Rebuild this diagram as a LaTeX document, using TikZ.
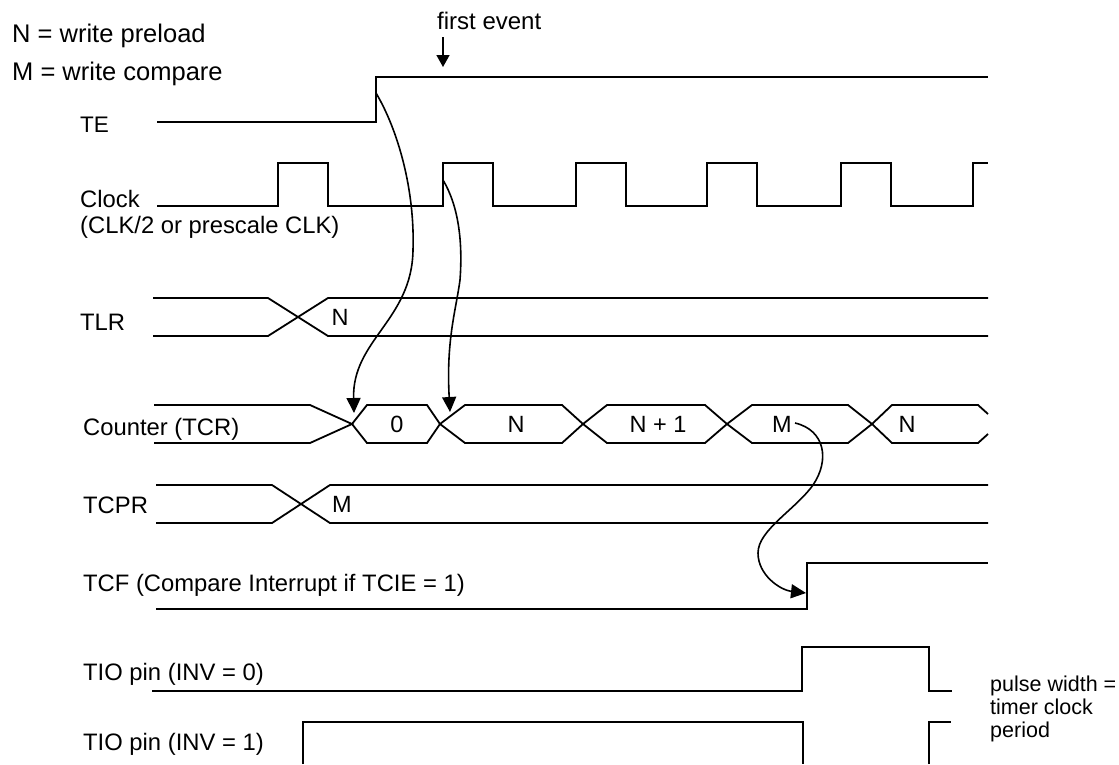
\documentclass[tikz,border=0pt]{standalone}
\usepackage{fontspec}
\setmainfont{Liberation Sans}
\usetikzlibrary{arrows.meta}

\begin{document}
\begin{tikzpicture}[x=1pt,y=-1pt,
  sig/.style={line width=2.6pt},
  bus/.style={line width=1.8pt},
  lbl/.style={anchor=base west,inner sep=0pt,font=\fontsize{23.8}{28}\selectfont},
  val/.style={inner sep=0pt,font=\fontsize{23.5}{28}\selectfont},
  cause/.style={line width=1.6pt,-{Triangle[length=15pt,width=14pt]}}]
\useasboundingbox (0,0) rectangle (1119,764);
% key
\node[lbl,font=\fontsize{25.5}{30}\selectfont] (keyN) at (12,42) {N = write preload};
\node[lbl,font=\fontsize{25.5}{30}\selectfont] (keyM) at (12,80) {M = write compare};
\node[lbl,font=\fontsize{24}{28}\selectfont] (first) at (437,29) {first event};
\coordinate (evtip) at (443,67);
\draw[line width=1.6pt,-{Triangle[length=12pt,width=13pt]}] ([shift={(6,8)}]first.south west) -- (evtip);

% signal names
\node[lbl,font=\fontsize{22.5}{28}\selectfont] (te) at (80,132) {TE};
\node[lbl] (clk) at (80,207) {Clock};
\node[lbl] (clknote) at (80,233) {(CLK/2 or prescale CLK)};
\node[lbl] (tlr) at (80,330) {TLR};
\node[lbl] (tcr) at (83,435) {Counter (TCR)};
\node[lbl] (tcpr) at (83,513) {TCPR};
\node[lbl] (tcf) at (83,591) {TCF (Compare Interrupt if TCIE = 1)};
\node[lbl] (tio0) at (83,680) {TIO pin (INV = 0)};
\node[lbl] (tio1) at (83,750) {TIO pin (INV = 1)};
\node[lbl,font=\fontsize{21.5}{23}\selectfont,align=left,anchor=north west] (pw) at (990,676) {pulse width =\\timer clock\\period};

% TE and clock
\draw[sig] (157,122) -- (376,122) -- (376,77) -- (988,77);
\draw[sig] (157,206) -- (278,206) -- (278,163) -- (328,163) -- (328,206)
  foreach \r in {443,576,707,841} { -- (\r,206) -- (\r,163) -- (\r+50,163) -- (\r+50,206) }
  -- (973,206) -- (973,163) -- (988,163);

% TLR and TCPR buses
\draw[bus] (153,298) -- (268,298) -- (328,336) -- (988,336);
\draw[bus] (153,336) -- (268,336) -- (328,298) -- (988,298);
\node[val] (tlrN) at (340,317) {N};
\draw[bus] (156,485) -- (272,485) -- (330,523) -- (988,523);
\draw[bus] (156,523) -- (272,523) -- (330,485) -- (988,485);
\node[val] (tcprM) at (342,504) {M};

% counter
\draw[bus] (154,405) -- (310,405) -- (352,424) -- (310,443) -- (154,443);
\foreach \a/\b/\c/\d in {352/367/427/440, 440/465/562/583, 583/607/705/727, 727/752/848/872}
  \draw[bus] (\a,424) -- (\b,405) -- (\c,405) -- (\d,424) -- (\c,443) -- (\b,443) -- cycle;
\draw[bus] (988,414) -- (978,405) -- (892,405) -- (872,424) -- (892,443) -- (978,443) -- (988,434);
\node[val] (cnt0) at (397,424) {0};
\node[val] (cntN) at (516,424) {N};
\node[val] (cntN1) at (658,424) {N + 1};
\node[val] (cntM) at (782,424) {M};
\node[val] (cntNb) at (907,424) {N};

% TCF and TIO
\draw[sig] (156,609) -- (807,609) -- (807,563) -- (988,563);
\draw[sig] (152,691) -- (802,691) -- (802,647) -- (929,647) -- (929,691) -- (952,691);
\draw[sig] (303,764) -- (303,722) -- (803,722) -- (803,764);
\draw[sig] (929,764) -- (929,722) -- (951,722);

% cause arrows
\coordinate (teedge) at (376,93);
\coordinate (clkedge) at (443,180);
\coordinate (cnt0in) at (354,413);
\coordinate (cntNin) at (450,412);
\coordinate (cntMout) at (795,423);
\coordinate (tcfedge) at (806,593);
\draw[cause] (teedge) .. controls (398,130) and (415,190) .. (413,250)
  .. controls (412,320) and (352,340) .. (cnt0in);
\draw[cause] (clkedge) .. controls (458,205) and (463,240) .. (460,280)
  .. controls (456,310) and (446,340) .. (cntNin);
\draw[cause] (cntMout) .. controls (825,430) and (830,460) .. (813,485)
  .. controls (795,510) and (758,530) .. (758,553)
  .. controls (758,575) and (780,590) .. (tcfedge);
\end{tikzpicture}
\end{document}
